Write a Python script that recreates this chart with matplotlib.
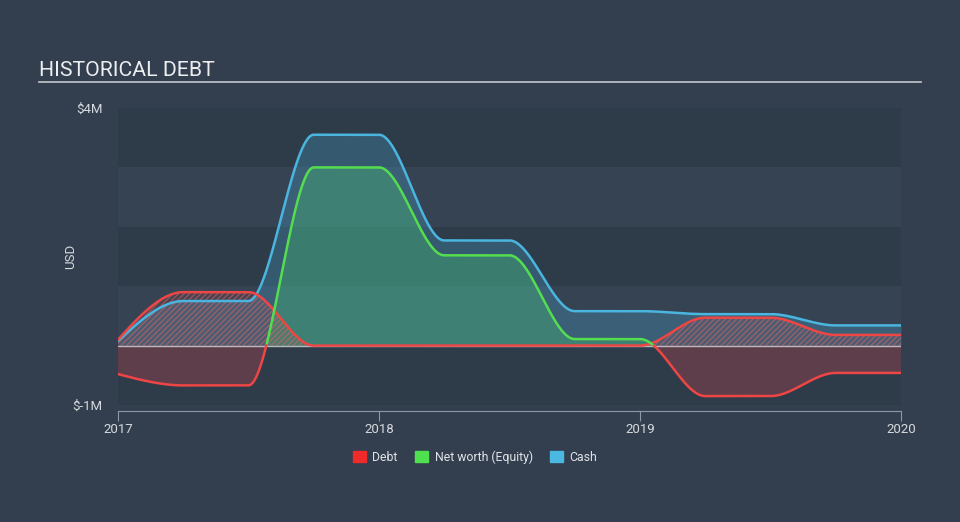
import numpy as np
import matplotlib
matplotlib.use("Agg")
import matplotlib.pyplot as plt
from matplotlib.patches import Patch

plt.rcParams['font.family'] = ['Roboto', 'DejaVu Sans']
plt.rcParams['hatch.linewidth'] = 0.8

# quarterly values, millions USD
quarters = [2017.0, 2017.25, 2017.5, 2017.75, 2018.0, 2018.25, 2018.5,
            2018.75, 2019.0, 2019.25, 2019.5, 2019.75, 2020.0]
debt = [0.10, 0.90, 0.90, 0.0, 0.0, 0.0, 0.0, 0.0, 0.0, 0.47, 0.47, 0.18, 0.18]
equity = [-0.48, -0.67, -0.67, 3.0, 3.0, 1.52, 1.52, 0.11, 0.11, -0.85, -0.85, -0.46, -0.46]
cash = [0.08, 0.75, 0.75, 3.55, 3.55, 1.77, 1.77, 0.58, 0.58, 0.53, 0.53, 0.34, 0.34]
year_ticks = [2017, 2018, 2019, 2020]


def monotone(x, y, xs):
    # monotone cubic (Fritsch-Carlson) like d3 curveMonotoneX
    x = np.asarray(x, float)
    y = np.asarray(y, float)
    h = np.diff(x)
    s = np.diff(y) / h
    m = np.zeros_like(y)
    for i in range(1, len(y) - 1):
        if s[i - 1] * s[i] > 0:
            p = (s[i - 1] * h[i] + s[i] * h[i - 1]) / (h[i - 1] + h[i])
            m[i] = (np.sign(s[i - 1]) + np.sign(s[i])) * min(abs(s[i - 1]), abs(s[i]), 0.5 * abs(p))
    m[0] = s[0] if s[0] == 0 else (3 * s[0] - m[1]) / 2
    m[-1] = s[-1] if s[-1] == 0 else (3 * s[-1] - m[-2]) / 2
    idx = np.clip(np.searchsorted(x, xs) - 1, 0, len(h) - 1)
    t = (xs - x[idx]) / h[idx]
    h00 = 2 * t**3 - 3 * t**2 + 1
    h10 = t**3 - 2 * t**2 + t
    h01 = -2 * t**3 + 3 * t**2
    h11 = t**3 - t**2
    return h00 * y[idx] + h10 * h[idx] * m[idx] + h01 * y[idx + 1] + h11 * h[idx] * m[idx + 1]


xs = np.linspace(quarters[0], quarters[-1], 1500)
d = monotone(quarters, debt, xs)
e = monotone(quarters, equity, xs)
c = monotone(quarters, cash, xs)

bg = '#333f4e'
red = '#ee4545'
green = '#55dd50'
blue = '#4ab6e0'

fig = plt.figure(figsize=(9.6, 5.22), dpi=100, facecolor=bg)
ax = fig.add_axes([118 / 960, 1 - 405 / 522, 783 / 960, 297 / 522])
ax.set_facecolor('#354353')

for lo in [3, 1, -1]:
    ax.axhspan(lo, lo + 1, color='#2e3b49', lw=0, zorder=0)

# cash
ax.fill_between(xs, 0, c, color=blue, alpha=0.25, lw=0, zorder=1)
# equity
ax.fill_between(xs, 0, e, where=e >= 0, color='#46c070', alpha=0.35, lw=0, zorder=2)
ax.fill_between(xs, 0, e, where=e <= 0, color='#d04550', alpha=0.3, lw=0, zorder=2)
# debt hatched
ax.fill_between(xs, 0, d, facecolor=(0.9, 0.3, 0.3, 0.12), edgecolor=(0.92, 0.4, 0.4, 0.55),
                hatch='//////', lw=0, zorder=3)

ax.axhline(0, color='#d8d8d8', lw=1, alpha=0.8, zorder=4)

ax.plot(xs, c, color=blue, lw=1.8, zorder=5)
ax.plot(xs, d, color=red, lw=1.8, zorder=6)
pos = np.ma.masked_where(e < -0.005, e)
neg = np.ma.masked_where(e > 0.005, e)
ax.plot(xs, pos, color=green, lw=1.8, zorder=6)
ax.plot(xs, neg, color=red, lw=1.8, zorder=6)

ax.set_xlim(2017, 2020)
ax.set_ylim(-1, 4)
ax.set_yticks([-1, 4])
ax.set_yticklabels(['$-1M', '$4M'])
ax.set_xticks(year_ticks)
ax.set_xticklabels([str(y) for y in year_ticks])
for s in ['top', 'right', 'left']:
    ax.spines[s].set_visible(False)
ax.spines['bottom'].set_color('#8d98a5')
ax.spines['bottom'].set_position(('outward', 4))
ax.tick_params(axis='y', length=0, pad=11, labelsize=9.5, labelcolor='#d6d9dd')
ax.tick_params(axis='x', length=7, color='#8d98a5', pad=2, labelsize=9.5, labelcolor='#d6d9dd')
ax.set_ylabel('USD', color='#d6d9dd', fontsize=9.5)
ax.yaxis.set_label_coords(-41 / 783, 0.5)

fig.text(39 / 960, 1 - 70 / 522, 'HISTORICAL DEBT', color='#eceef0', fontsize=15.3, va='center', ha='left')
fig.add_artist(plt.Line2D([39 / 960, 921 / 960], [1 - 82 / 522, 1 - 82 / 522],
                          color='#b8bcc2', lw=1.3, transform=fig.transFigure))

handles = [Patch(color='#ee2a2a', label='Debt'), Patch(color='#4fe04f', label='Net worth (Equity)'),
           Patch(color='#4ab8e0', label='Cash')]
fig.legend(handles=handles, loc='center', bbox_to_anchor=(475 / 960, 1 - 457 / 522), ncol=3,
           frameon=False, fontsize=8.8, labelcolor='#e0e3e6', handlelength=1.1, handleheight=0.9,
           handletextpad=0.5, columnspacing=1.4)

fig.savefig('out.png', dpi=100, facecolor=bg)
